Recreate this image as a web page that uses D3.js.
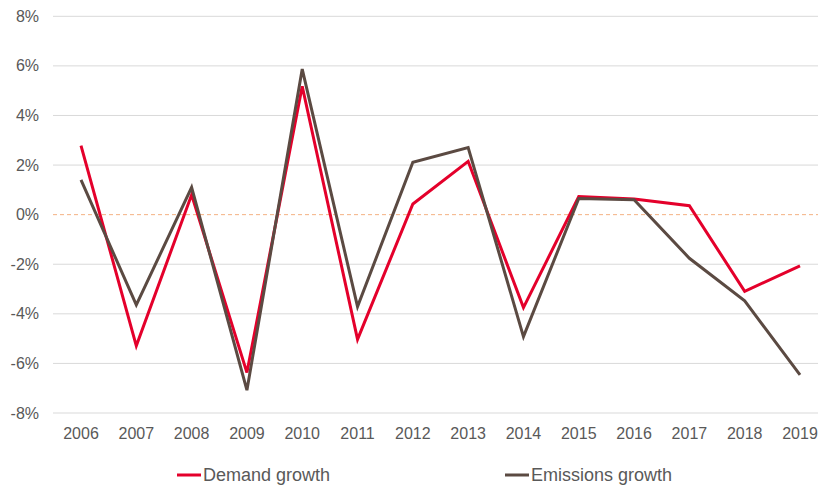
<!DOCTYPE html>
<html><head><meta charset="utf-8">
<script src="https://cdn.jsdelivr.net/npm/d3@7"></script>
<style>body{margin:0;background:#fff}svg{display:block}text{font-family:"Liberation Sans",Arial,sans-serif}</style>
</head><body><svg id="c" width="818" height="486"></svg>
<script>
const years = ["2006","2007","2008","2009","2010","2011","2012","2013","2014","2015","2016","2017","2018","2019"];
const demandGrowth = [2.78,-5.29,0.8,-6.37,5.18,-5.03,0.43,2.15,-3.75,0.73,0.63,0.36,-3.09,-2.07];
const emissionsGrowth = [1.40,-3.64,1.1,-7.08,5.87,-3.71,2.11,2.71,-4.92,0.65,0.6,-1.76,-3.48,-6.46];
const yTicks = [-8,-6,-4,-2,0,2,4,6,8];
const seriesNames = ["Demand growth","Emissions growth"];
const colors = ["#e4002b","#5b4a42"];

const svg = d3.select("#c");
const x = d3.scalePoint().domain(years).range([81,800]);
const y = d3.scaleLinear().domain([-8,8]).range([413,16.3]);
const gridX0 = 53, gridX1 = 818;

svg.append("g").selectAll("line").data(yTicks.filter(d=>d!==0)).join("line")
  .attr("x1",gridX0).attr("x2",gridX1)
  .attr("y1",d=>y(d)).attr("y2",d=>y(d))
  .attr("stroke","#d9d9d9").attr("stroke-width",1);

svg.append("line").attr("x1",gridX0).attr("x2",gridX1)
  .attr("y1",y(0)).attr("y2",y(0))
  .attr("stroke","#f4b183").attr("stroke-width",1).attr("stroke-dasharray","4,3");

svg.append("g").selectAll("text").data(yTicks).join("text")
  .attr("x",39).attr("y",d=>y(d)).attr("dy","0.35em")
  .attr("text-anchor","end").attr("font-size",16).attr("fill","#595959")
  .text(d=>d+"%");

svg.append("g").selectAll("text").data(years).join("text")
  .attr("x",d=>x(d)).attr("y",438.5)
  .attr("text-anchor","middle").attr("font-size",16).attr("fill","#595959")
  .text(d=>d);

const line = d3.line().x((d,i)=>x(years[i])).y(d=>y(d));
[demandGrowth, emissionsGrowth].forEach((s,k)=>{
  svg.append("path").datum(s).attr("d",line)
    .attr("fill","none").attr("stroke",colors[k]).attr("stroke-width",3)
    .attr("stroke-linejoin","miter");
});
const legX = [177,505];
seriesNames.forEach((n,k)=>{
  svg.append("line").attr("x1",legX[k]).attr("x2",legX[k]+24)
    .attr("y1",475).attr("y2",475).attr("stroke",colors[k]).attr("stroke-width",3);
  svg.append("text").attr("x",legX[k]+26).attr("y",481)
    .attr("font-size",18).attr("fill","#595959").text(n);
});
</script></body></html>
